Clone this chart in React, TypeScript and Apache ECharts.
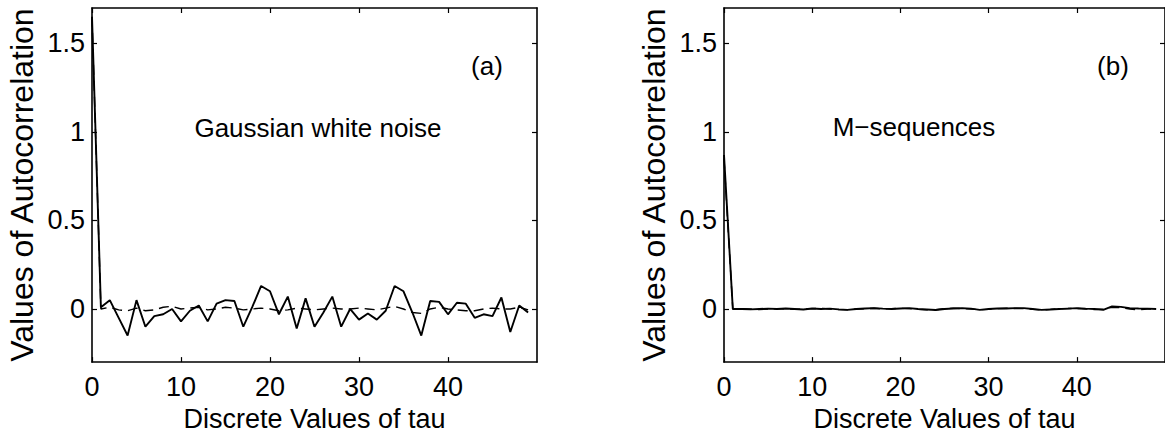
import React, { useEffect, useRef } from "react";
import * as echarts from "echarts";

const lags = [
  0, 1, 2, 3, 4, 5, 6, 7, 8, 9, 10, 11, 12, 13, 14, 15, 16, 17, 18, 19, 20, 21, 22, 23, 24,
  25, 26, 27, 28, 29, 30, 31, 32, 33, 34, 35, 36, 37, 38, 39, 40, 41, 42, 43, 44, 45, 46, 47, 48, 49,
];

const gaussSolid = [
  1.65, 0.01, 0.05, -0.05, -0.15, 0.05, -0.1, -0.04, -0.03, 0.0, -0.07, -0.01, 0.02, -0.07, 0.03,
  0.05, 0.045, -0.1, 0.01, 0.13, 0.1, -0.03, 0.07, -0.11, 0.06, -0.1, -0.02, 0.07, -0.1, 0.0,
  -0.06, -0.025, -0.06, -0.01, 0.13, 0.1, -0.02, -0.15, 0.045, 0.04, -0.03, 0.035, 0.03, -0.05,
  -0.03, -0.04, 0.065, -0.13, 0.02, -0.02,
];

const gaussDashed = [
  1.65, 0.0, 0.01, -0.005, -0.01, 0.005, -0.01, -0.005, 0.01, 0.015, 0.0, 0.005, 0.01, -0.005,
  0.0, 0.01, 0.005, -0.005, 0.0, 0.005, 0.0, -0.01, -0.005, 0.005, 0.0, -0.005, 0.0, 0.005, 0.0,
  0.0, 0.005, 0.0, -0.005, 0.005, 0.015, 0.0, -0.02, -0.025, 0.0, 0.01, 0.0, -0.005, -0.01, -0.01,
  0.0, 0.005, 0.0, 0.0, 0.01, -0.005,
];

const mseqSolid = [
  0.87, 0.0, 0.0, -0.002, 0.0, 0.002, 0.0, 0.003, 0.0, -0.003, 0.003, 0.0, 0.002, -0.002, -0.005,
  0.0, 0.003, 0.005, 0.002, 0.0, 0.003, 0.005, 0.0, -0.003, -0.006, 0.0, 0.003, 0.005, 0.002,
  -0.005, 0.0, 0.003, 0.003, 0.005, 0.005, 0.0, -0.005, -0.003, 0.0, 0.002, 0.005, 0.002, 0.0,
  -0.005, 0.015, 0.012, 0.005, 0.003, 0.002, 0.0,
];

const mseqDashed = [
  0.85, 0.0, 0.002, 0.0, -0.003, 0.0, 0.002, 0.0, -0.002, 0.0, 0.002, 0.004, 0.0, -0.003, -0.004,
  0.0, 0.002, 0.004, 0.0, 0.002, 0.004, 0.002, -0.002, -0.004, -0.004, 0.002, 0.004, 0.002, 0.0,
  -0.004, -0.002, 0.002, 0.004, 0.003, 0.002, -0.002, -0.006, -0.002, 0.002, 0.003, 0.003, 0.0,
  -0.003, 0.0, 0.01, 0.008, 0.0, -0.005, 0.0, 0.0,
];

const xTicks = [0, 10, 20, 30, 40];
const yTicks = [0, 0.5, 1, 1.5];

const xName = "Discrete Values of tau";
const yName = "Values of Autocorrelation";
const panelTitles = ["Gaussian white noise", "M\u2212sequences"];
const panelTags = ["(a)", "(b)"];

const FONT = "'Liberation Sans', Arial, Helvetica, sans-serif";

function pairs(vals: number[]) {
  return vals.map((v, i) => [lags[i], v]);
}

export default function App() {
  const ref = useRef<HTMLDivElement>(null);

  useEffect(() => {
    if (!ref.current) return;
    const chart = echarts.init(ref.current, null, { renderer: "svg" });

    const frameLine = { show: true, onZero: false, lineStyle: { color: "#000", width: 1.6 } };
    const tickStyle = { color: "#000", width: 1.2 };

    const xAxisFor = (g: number, pos: "bottom" | "top") => ({
      type: "value",
      gridIndex: g,
      position: pos,
      min: 0,
      max: 50,
      axisLine: frameLine,
      axisTick: { show: true, inside: true, length: 5, customValues: xTicks, lineStyle: tickStyle },
      axisLabel:
        pos === "bottom"
          ? { show: true, customValues: xTicks, color: "#000", fontSize: 27, margin: 11, fontFamily: FONT }
          : { show: false },
      splitLine: { show: false },
      name: pos === "bottom" ? xName : "",
      nameLocation: "middle",
      nameGap: 33,
      nameTextStyle: { color: "#000", fontSize: 27, fontFamily: FONT },
    });

    const yAxisFor = (g: number, pos: "left" | "right") => ({
      type: "value",
      gridIndex: g,
      position: pos,
      min: -0.3,
      max: 1.7,
      axisLine: frameLine,
      axisTick: { show: true, inside: true, length: 5, customValues: yTicks, lineStyle: tickStyle },
      axisLabel:
        pos === "left"
          ? { show: true, customValues: yTicks, color: "#000", fontSize: 27, margin: 7, fontFamily: FONT }
          : { show: false },
      splitLine: { show: false },
      name: pos === "left" ? yName : "",
      nameLocation: "middle",
      nameGap: 54,
      nameRotate: 90,
      nameTextStyle: { color: "#000", fontSize: 32, fontFamily: FONT },
    });

    const solid = { color: "#000", width: 1.9 };
    const dashed = { color: "#000", width: 1.4, type: [10, 6] };

    const option = {
      animation: false,
      backgroundColor: "#fff",
      textStyle: { fontFamily: FONT },
      grid: [
        { left: 92, top: 8, width: 445, height: 360 },
        { left: 724, top: 8, width: 445, height: 360 },
      ],
      xAxis: [xAxisFor(0, "bottom"), xAxisFor(0, "top"), xAxisFor(1, "bottom"), xAxisFor(1, "top")],
      yAxis: [yAxisFor(0, "left"), yAxisFor(0, "right"), yAxisFor(1, "left"), yAxisFor(1, "right")],
      series: [
        { type: "line", xAxisIndex: 0, yAxisIndex: 0, data: pairs(gaussDashed), showSymbol: false, lineStyle: dashed },
        { type: "line", xAxisIndex: 0, yAxisIndex: 0, data: pairs(gaussSolid), showSymbol: false, lineStyle: solid },
        { type: "line", xAxisIndex: 2, yAxisIndex: 2, data: pairs(mseqDashed), showSymbol: false, lineStyle: dashed },
        { type: "line", xAxisIndex: 2, yAxisIndex: 2, data: pairs(mseqSolid), showSymbol: false, lineStyle: solid },
      ],
      graphic: [
        { type: "text", x: 318, y: 128, style: { text: panelTitles[0], fontSize: 26, fontFamily: FONT, fill: "#000", align: "center", verticalAlign: "middle" } },
        { type: "text", x: 487, y: 66, style: { text: panelTags[0], fontSize: 26, fontFamily: FONT, fill: "#000", align: "center", verticalAlign: "middle" } },
        { type: "text", x: 914, y: 127, style: { text: panelTitles[1], fontSize: 26, fontFamily: FONT, fill: "#000", align: "center", verticalAlign: "middle" } },
        { type: "text", x: 1113, y: 66, style: { text: panelTags[1], fontSize: 26, fontFamily: FONT, fill: "#000", align: "center", verticalAlign: "middle" } },
      ],
    };

    chart.setOption(option as any);
    return () => chart.dispose();
  }, []);

  return (
    <div
      ref={ref}
      style={{ position: "absolute", left: 0, top: 0, width: 1165, height: 437, background: "#fff" }}
    />
  );
}
